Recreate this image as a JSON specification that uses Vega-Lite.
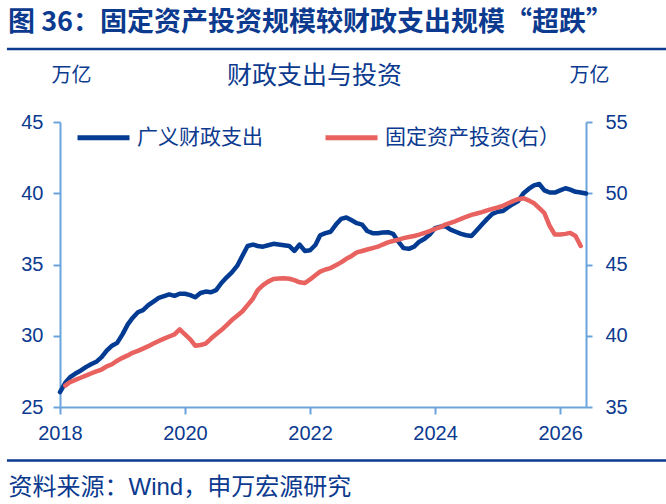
{
  "$schema": "https://vega.github.io/schema/vega-lite/v6.json",
  "width": 526,
  "height": 285,
  "autosize": {"type": "none"},
  "padding": {"left": 60, "top": 122, "right": 80, "bottom": 97},
  "background": "white",
  "config": {
    "view": {"stroke": null},
    "font": "Liberation Sans, Noto Sans CJK SC",
    "axis": {"grid": false}
  },
  "title": {
    "text": "图 36：固定资产投资规模较财政支出规模“超跌”",
    "anchor": "start",
    "frame": "group",
    "dx": -52,
    "dy": 29,
    "offset": 13,
    "baseline": "bottom",
    "fontSize": 27,
    "fontWeight": "bold",
    "color": "#0b3a8f",
    "font": "Noto Sans CJK SC, Liberation Sans"
  },
  "datasets": {
    "fiscal": [
      {"d": "2018-01-01", "v": 26.05}, {"d": "2018-02-01", "v": 26.7}, {"d": "2018-03-01", "v": 27.1}, {"d": "2018-04-01", "v": 27.35},
      {"d": "2018-05-01", "v": 27.55}, {"d": "2018-06-01", "v": 27.8}, {"d": "2018-07-01", "v": 28.0}, {"d": "2018-08-01", "v": 28.17},
      {"d": "2018-09-01", "v": 28.5}, {"d": "2018-10-01", "v": 28.95}, {"d": "2018-11-01", "v": 29.3}, {"d": "2018-12-01", "v": 29.5},
      {"d": "2019-01-01", "v": 30.1}, {"d": "2019-02-01", "v": 30.8}, {"d": "2019-03-01", "v": 31.25}, {"d": "2019-04-01", "v": 31.65},
      {"d": "2019-05-01", "v": 31.8}, {"d": "2019-06-01", "v": 32.15}, {"d": "2019-07-01", "v": 32.4}, {"d": "2019-08-01", "v": 32.65},
      {"d": "2019-09-01", "v": 32.78}, {"d": "2019-10-01", "v": 32.9}, {"d": "2019-11-01", "v": 32.8}, {"d": "2019-12-01", "v": 32.95},
      {"d": "2020-01-01", "v": 32.95}, {"d": "2020-02-01", "v": 32.85}, {"d": "2020-03-01", "v": 32.7}, {"d": "2020-04-01", "v": 33.0},
      {"d": "2020-05-01", "v": 33.1}, {"d": "2020-06-01", "v": 33.05}, {"d": "2020-07-01", "v": 33.2}, {"d": "2020-08-01", "v": 33.7},
      {"d": "2020-09-01", "v": 34.1}, {"d": "2020-10-01", "v": 34.45}, {"d": "2020-11-01", "v": 34.9}, {"d": "2020-12-01", "v": 35.6},
      {"d": "2021-01-01", "v": 36.3}, {"d": "2021-02-01", "v": 36.4}, {"d": "2021-03-01", "v": 36.3}, {"d": "2021-04-01", "v": 36.25},
      {"d": "2021-05-01", "v": 36.35}, {"d": "2021-06-01", "v": 36.45}, {"d": "2021-07-01", "v": 36.4}, {"d": "2021-08-01", "v": 36.35},
      {"d": "2021-09-01", "v": 36.3}, {"d": "2021-10-01", "v": 35.95}, {"d": "2021-11-01", "v": 36.4}, {"d": "2021-12-01", "v": 35.95},
      {"d": "2022-01-01", "v": 36.0}, {"d": "2022-02-01", "v": 36.37}, {"d": "2022-03-01", "v": 37.05}, {"d": "2022-04-01", "v": 37.2},
      {"d": "2022-05-01", "v": 37.3}, {"d": "2022-06-01", "v": 37.8}, {"d": "2022-07-01", "v": 38.2}, {"d": "2022-08-01", "v": 38.3},
      {"d": "2022-09-01", "v": 38.1}, {"d": "2022-10-01", "v": 37.9}, {"d": "2022-11-01", "v": 37.8}, {"d": "2022-12-01", "v": 37.35},
      {"d": "2023-01-01", "v": 37.2}, {"d": "2023-02-01", "v": 37.2}, {"d": "2023-03-01", "v": 37.25}, {"d": "2023-04-01", "v": 37.27},
      {"d": "2023-05-01", "v": 37.15}, {"d": "2023-06-01", "v": 36.6}, {"d": "2023-07-01", "v": 36.15}, {"d": "2023-08-01", "v": 36.1},
      {"d": "2023-09-01", "v": 36.25}, {"d": "2023-10-01", "v": 36.6}, {"d": "2023-11-01", "v": 36.8}, {"d": "2023-12-01", "v": 37.1},
      {"d": "2024-01-01", "v": 37.55}, {"d": "2024-02-01", "v": 37.65}, {"d": "2024-03-01", "v": 37.7}, {"d": "2024-04-01", "v": 37.45},
      {"d": "2024-05-01", "v": 37.3}, {"d": "2024-06-01", "v": 37.15}, {"d": "2024-07-01", "v": 37.05}, {"d": "2024-08-01", "v": 37.0},
      {"d": "2024-09-01", "v": 37.4}, {"d": "2024-10-01", "v": 37.8}, {"d": "2024-11-01", "v": 38.2}, {"d": "2024-12-01", "v": 38.55},
      {"d": "2025-01-01", "v": 38.7}, {"d": "2025-02-01", "v": 38.75}, {"d": "2025-03-01", "v": 39.0}, {"d": "2025-04-01", "v": 39.25},
      {"d": "2025-05-01", "v": 39.45}, {"d": "2025-06-01", "v": 40.0}, {"d": "2025-07-01", "v": 40.3}, {"d": "2025-08-01", "v": 40.55},
      {"d": "2025-09-01", "v": 40.65}, {"d": "2025-10-01", "v": 40.2}, {"d": "2025-11-01", "v": 40.05}, {"d": "2025-12-01", "v": 40.05},
      {"d": "2026-01-01", "v": 40.2}, {"d": "2026-02-01", "v": 40.35}, {"d": "2026-03-01", "v": 40.25}, {"d": "2026-04-01", "v": 40.1},
      {"d": "2026-05-01", "v": 40.05}, {"d": "2026-06-01", "v": 39.98}
    ],
    "fai": [
      {"d": "2018-02-01", "v": 36.5}, {"d": "2018-03-01", "v": 36.75}, {"d": "2018-04-01", "v": 36.9},
      {"d": "2018-05-01", "v": 37.05}, {"d": "2018-06-01", "v": 37.2}, {"d": "2018-07-01", "v": 37.35}, {"d": "2018-08-01", "v": 37.5},
      {"d": "2018-09-01", "v": 37.63}, {"d": "2018-10-01", "v": 37.85}, {"d": "2018-11-01", "v": 38.0}, {"d": "2018-12-01", "v": 38.25},
      {"d": "2019-01-01", "v": 38.45}, {"d": "2019-02-01", "v": 38.62}, {"d": "2019-03-01", "v": 38.8}, {"d": "2019-04-01", "v": 38.94},
      {"d": "2019-05-01", "v": 39.1}, {"d": "2019-06-01", "v": 39.27}, {"d": "2019-07-01", "v": 39.45}, {"d": "2019-08-01", "v": 39.63},
      {"d": "2019-09-01", "v": 39.8}, {"d": "2019-10-01", "v": 39.95}, {"d": "2019-11-01", "v": 40.1}, {"d": "2019-12-01", "v": 40.45},
      {"d": "2020-01-01", "v": 40.1}, {"d": "2020-02-01", "v": 39.75}, {"d": "2020-03-01", "v": 39.3}, {"d": "2020-04-01", "v": 39.35},
      {"d": "2020-05-01", "v": 39.45}, {"d": "2020-06-01", "v": 39.8}, {"d": "2020-07-01", "v": 40.1}, {"d": "2020-08-01", "v": 40.4},
      {"d": "2020-09-01", "v": 40.75}, {"d": "2020-10-01", "v": 41.1}, {"d": "2020-11-01", "v": 41.4}, {"d": "2020-12-01", "v": 41.7},
      {"d": "2021-01-01", "v": 42.15}, {"d": "2021-02-01", "v": 42.6}, {"d": "2021-03-01", "v": 43.2}, {"d": "2021-04-01", "v": 43.55},
      {"d": "2021-05-01", "v": 43.8}, {"d": "2021-06-01", "v": 43.98}, {"d": "2021-07-01", "v": 44.02}, {"d": "2021-08-01", "v": 44.03},
      {"d": "2021-09-01", "v": 44.0}, {"d": "2021-10-01", "v": 43.9}, {"d": "2021-11-01", "v": 43.75}, {"d": "2021-12-01", "v": 43.7},
      {"d": "2022-01-01", "v": 43.95}, {"d": "2022-02-01", "v": 44.25}, {"d": "2022-03-01", "v": 44.5}, {"d": "2022-04-01", "v": 44.65},
      {"d": "2022-05-01", "v": 44.75}, {"d": "2022-06-01", "v": 44.95}, {"d": "2022-07-01", "v": 45.15}, {"d": "2022-08-01", "v": 45.4},
      {"d": "2022-09-01", "v": 45.6}, {"d": "2022-10-01", "v": 45.85}, {"d": "2022-11-01", "v": 45.95}, {"d": "2022-12-01", "v": 46.05},
      {"d": "2023-01-01", "v": 46.15}, {"d": "2023-02-01", "v": 46.25}, {"d": "2023-03-01", "v": 46.4}, {"d": "2023-04-01", "v": 46.55},
      {"d": "2023-05-01", "v": 46.65}, {"d": "2023-06-01", "v": 46.75}, {"d": "2023-07-01", "v": 46.85}, {"d": "2023-08-01", "v": 46.93},
      {"d": "2023-09-01", "v": 47.0}, {"d": "2023-10-01", "v": 47.1}, {"d": "2023-11-01", "v": 47.22}, {"d": "2023-12-01", "v": 47.35},
      {"d": "2024-01-01", "v": 47.5}, {"d": "2024-02-01", "v": 47.62}, {"d": "2024-03-01", "v": 47.8}, {"d": "2024-04-01", "v": 47.92},
      {"d": "2024-05-01", "v": 48.05}, {"d": "2024-06-01", "v": 48.2}, {"d": "2024-07-01", "v": 48.35}, {"d": "2024-08-01", "v": 48.48},
      {"d": "2024-09-01", "v": 48.58}, {"d": "2024-10-01", "v": 48.68}, {"d": "2024-11-01", "v": 48.8}, {"d": "2024-12-01", "v": 48.9},
      {"d": "2025-01-01", "v": 49.0}, {"d": "2025-02-01", "v": 49.12}, {"d": "2025-03-01", "v": 49.28}, {"d": "2025-04-01", "v": 49.45},
      {"d": "2025-05-01", "v": 49.58}, {"d": "2025-06-01", "v": 49.65}, {"d": "2025-07-01", "v": 49.5}, {"d": "2025-08-01", "v": 49.3},
      {"d": "2025-09-01", "v": 48.95}, {"d": "2025-10-01", "v": 48.6}, {"d": "2025-11-01", "v": 47.7}, {"d": "2025-12-01", "v": 47.1},
      {"d": "2026-01-01", "v": 47.1}, {"d": "2026-02-01", "v": 47.15}, {"d": "2026-03-01", "v": 47.22}, {"d": "2026-04-01", "v": 47.0},
      {"d": "2026-05-01", "v": 46.3}
    ]
  },
  "layer": [
    {
      "layer": [
        {
          "data": {"name": "fiscal"},
          "mark": {"type": "line", "strokeWidth": 4.5, "strokeJoin": "round", "strokeCap": "round"},
          "encoding": {
            "x": {
              "field": "d", "type": "temporal",
              "title": "资料来源：Wind，申万宏源研究",
              "scale": {"type": "utc", "domain": [{"year": 2018, "month": 1, "date": 1, "utc": true}, {"year": 2026, "month": 6, "date": 1, "utc": true}]},
              "axis": {
                "orient": "bottom",
                "values": [
                  {"year": 2018, "month": 1, "date": 1, "utc": true},
                  {"year": 2020, "month": 1, "date": 1, "utc": true},
                  {"year": 2022, "month": 1, "date": 1, "utc": true},
                  {"year": 2024, "month": 1, "date": 1, "utc": true},
                  {"year": 2026, "month": 1, "date": 1, "utc": true}
                ],
                "format": "%Y",
                "domainColor": "#6ba3dc", "domainWidth": 2,
                "tickColor": "#6ba3dc", "tickWidth": 2, "tickSize": 7,
                "labelFontSize": 20, "labelColor": "#0b3a8f", "labelPadding": 9,
                "labelFlush": false, "labelOverlap": false,
                "titleX": -52, "titleY": 80, "titleAlign": "left", "titleBaseline": "middle",
                "titleFontSize": 24, "titleFontWeight": "normal", "titleColor": "#0b3a8f"
              }
            },
            "y": {
              "field": "v", "type": "quantitative",
              "title": "万亿",
              "scale": {"domain": [25, 45], "nice": false, "zero": false},
              "axis": {
                "orient": "left",
                "values": [25, 30, 35, 40, 45],
                "domainColor": "#6ba3dc", "domainWidth": 2,
                "tickColor": "#6ba3dc", "tickWidth": 2, "tickSize": 7,
                "labelFontSize": 20, "labelColor": "#0b3a8f", "labelPadding": 10,
                "titleAngle": 0, "titleX": 11, "titleY": -47, "titleAlign": "center", "titleBaseline": "middle",
                "titleFontSize": 20, "titleFontWeight": "normal", "titleColor": "#0b3a8f"
              }
            },
            "color": {
              "datum": "广义财政支出",
              "scale": {"domain": ["广义财政支出", "固定资产投资(右）"], "range": ["#033b93", "#e8625f"]},
              "legend": {
                "orient": "none", "legendX": 15, "legendY": -13, "direction": "horizontal",
                "title": null, "padding": 0,
                "symbolType": "stroke", "symbolSize": 2704, "symbolStrokeWidth": 5,
                "labelFontSize": 21, "labelColor": "#0b3a8f", "labelOffset": 5, "labelLimit": 300,
                "columnPadding": 52
              }
            }
          }
        },
        {
          "data": {"values": [{}]},
          "mark": {"type": "rule", "strokeWidth": 2.5, "color": "#0b3a8f", "clip": false},
          "encoding": {
            "x": {"datum": {"year": 2017, "month": 2, "date": 25, "utc": true}, "type": "temporal", "title": "资料来源：Wind，申万宏源研究"},
            "x2": {"datum": {"year": 2028, "month": 1, "date": 1, "utc": true}},
            "y": {"datum": 50.12, "type": "quantitative", "title": "万亿"}
          }
        },
        {
          "data": {"values": [{}]},
          "mark": {"type": "rule", "strokeWidth": 2.5, "color": "#0b3a8f", "clip": false},
          "encoding": {
            "x": {"datum": {"year": 2017, "month": 2, "date": 25, "utc": true}, "type": "temporal", "title": "资料来源：Wind，申万宏源研究"},
            "x2": {"datum": {"year": 2028, "month": 1, "date": 1, "utc": true}},
            "y": {"datum": 21.25, "type": "quantitative", "title": "万亿"}
          }
        }
      ]
    },
    {
      "data": {"name": "fai"},
      "mark": {"type": "line", "strokeWidth": 4.5, "strokeJoin": "round", "strokeCap": "round"},
      "encoding": {
        "x": {
          "field": "d", "type": "temporal",
          "axis": {
            "orient": "top", "labels": false, "ticks": false, "domain": false,
            "title": "财政支出与投资",
            "titleX": 254, "titleY": -47, "titleAlign": "center", "titleBaseline": "middle",
            "titleFontSize": 25, "titleFontWeight": "normal", "titleColor": "#0b3a8f"
          }
        },
        "y": {
          "field": "v", "type": "quantitative",
          "title": "万亿",
          "scale": {"domain": [35, 55], "nice": false, "zero": false},
          "axis": {
            "orient": "right",
            "values": [35, 40, 45, 50, 55],
            "domainColor": "#6ba3dc", "domainWidth": 2,
            "tickColor": "#6ba3dc", "tickWidth": 2, "tickSize": 6,
            "labelFontSize": 20, "labelColor": "#0b3a8f", "labelPadding": 13,
            "titleAngle": 0, "titleX": 3, "titleY": -47, "titleAlign": "center", "titleBaseline": "middle",
            "titleFontSize": 20, "titleFontWeight": "normal", "titleColor": "#0b3a8f"
          }
        },
        "color": {"datum": "固定资产投资(右）"}
      }
    }
  ],
  "resolve": {"scale": {"y": "independent"}, "axis": {"x": "independent"}}
}
